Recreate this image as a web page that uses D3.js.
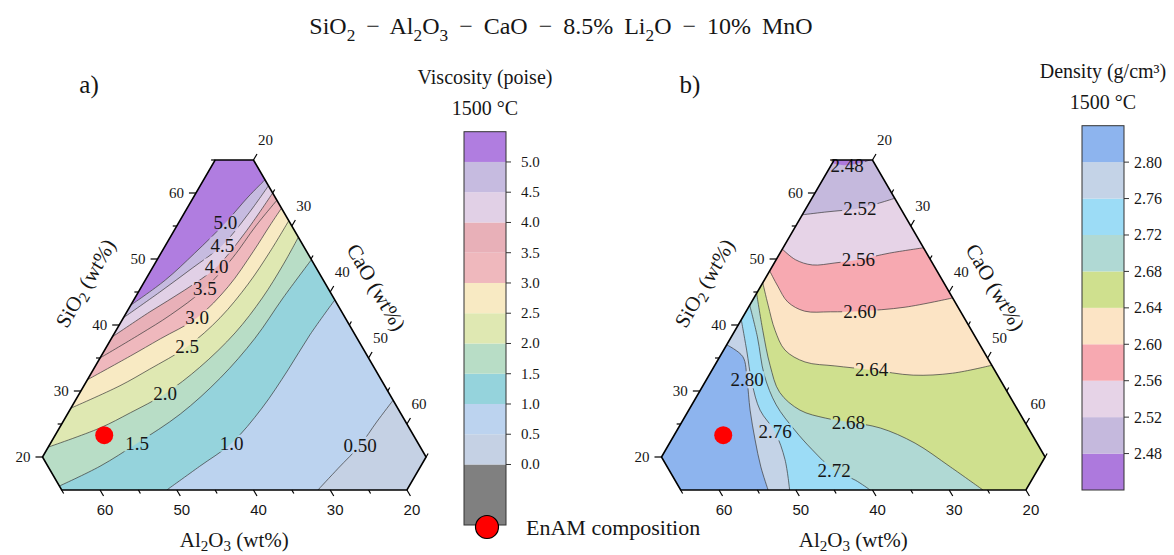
<!DOCTYPE html>
<html>
<head>
<meta charset="utf-8">
<script src="https://cdn.jsdelivr.net/npm/d3@7"></script>
<style>
  body { margin: 0; background: #fff; }
  text { font-family: "Liberation Serif", "Times New Roman", serif; fill: #161616; }
  .sans { font-family: "Liberation Sans", Arial, sans-serif; }
</style>
</head>
<body>
<svg id="fig" width="1174" height="555" font-family="Liberation Serif, serif"></svg>
<script>
// ---------- data (ternary points are [SiO2, Al2O3, CaO] in wt%) ----------
const viscLevels = [0.5, 1.0, 1.5, 2.0, 2.5, 3.0, 3.5, 4.0, 4.5, 5.0];
const viscLabels = ["0.50", "1.0", "1.5", "2.0", "2.5", "3.0", "3.5", "4.0", "4.5", "5.0"];
const viscEdges = [-1, 0, 0.5, 1.0, 1.5, 2.0, 2.5, 3.0, 3.5, 4.0, 4.5, 5.0, 5.5];
const viscColors = ["#808080", "#c5d1e4", "#bcd3ef", "#95d3dc", "#b8ddc6", "#dfe8b2",
                    "#f8eac3", "#efb8bd", "#e8b0b8", "#e1d0e6", "#c6bbe0", "#b07de0"];
const viscTicks = [0, 0.5, 1.0, 1.5, 2.0, 2.5, 3.0, 3.5, 4.0, 4.5, 5.0];
const viscLabelAt = [2, 2, 2, 3, 3, 3, 3, 3, 3, 3];
const viscContours = [
  [[15, 31.6, 53.4], [18.3, 27.3, 54.4], [21.8, 22.7, 55.5], [25.3, 18.8, 55.9], [28.6, 15, 56.4]],
  [[15, 51.3, 33.7], [18.6, 45.2, 36.2], [22.1, 39.3, 38.6], [27.4, 32.7, 39.9], [33.2, 26.4, 40.4], [38.5, 20.9, 40.6], [43.8, 15, 41.2]],
  [[15.6, 65, 19.4], [18.6, 58.2, 23.2], [22.1, 51.6, 26.3], [26.5, 43.8, 29.7], [32.0, 35.8, 32.2], [38.0, 28.3, 33.7], [44.1, 21.6, 34.3], [49.9, 15, 35.1]],
  [[21.5, 63.5, 15], [24.4, 55.3, 20.3], [26.7, 50.2, 23.1], [29.6, 44.2, 26.2], [33.6, 37.7, 28.7], [38.8, 30.5, 30.7], [44.1, 24.3, 31.6], [49.1, 19.1, 31.8], [53.3, 15, 31.7]],
  [[27.4, 57.6, 15], [30.8, 49.5, 19.7], [33.3, 44.4, 22.3], [36.7, 37.8, 25.5], [41.1, 31.3, 27.6], [46.2, 25.1, 28.7], [51.1, 19.8, 29.1], [55.8, 15, 29.2]],
  [[31.7, 53.3, 15], [35.3, 45.9, 18.8], [37.9, 40.7, 21.4], [41.1, 34.3, 24.6], [45.8, 27.9, 26.3], [51.1, 22.0, 26.9], [55.0, 17.9, 27.1], [57.7, 15, 27.3]],
  [[35, 50, 15], [38.6, 43.0, 18.4], [41.5, 37.6, 20.9], [45.5, 31.1, 23.4], [50.2, 25.1, 24.7], [55, 19.7, 25.3], [58.9, 15, 26.1]],
  [[38.2, 46.8, 15], [42.0, 40.0, 18.0], [45.3, 33.8, 20.9], [48.8, 27.9, 23.3], [53.9, 21.7, 24.4], [60, 15, 25]],
  [[41.1, 43.9, 15], [45, 37.2, 17.8], [48.6, 31.2, 20.2], [52.1, 25.5, 22.4], [56.8, 19.8, 23.4], [61.1, 15, 23.9]],
  [[43.0, 42.0, 15], [46.8, 35.6, 17.6], [50.9, 29.7, 19.4], [55.5, 23.4, 21.1], [59.4, 18.5, 22.1], [62.0, 15, 23.0]]
];

const densLevels = [2.48, 2.52, 2.56, 2.60, 2.64, 2.68, 2.72, 2.76, 2.80];
const densLabels = ["2.48", "2.52", "2.56", "2.60", "2.64", "2.68", "2.72", "2.76", "2.80"];
const densEdges = [2.44, 2.48, 2.52, 2.56, 2.60, 2.64, 2.68, 2.72, 2.76, 2.80, 2.84];
const densColors = ["#ad79dd", "#c5b9dd", "#e6d3e7", "#f7a9b1", "#fce4c5",
                    "#cfe08e", "#b0d9d4", "#9cdcf6", "#c4d3e7", "#8db4ee"];
const densTicks = [2.48, 2.52, 2.56, 2.60, 2.64, 2.68, 2.72, 2.76, 2.80];
const densLabelAt = [1, 2, 4, 5, 6, 6, 6, 4, 2];
const densContours = [
  [[64.5, 20.5, 15], [64.2, 18.7, 17.1], [65, 15.3, 19.7]],
  [[56.7, 28.3, 15], [57.1, 25.2, 17.7], [57.7, 20.3, 22.0], [58.5, 17.3, 24.2], [59.2, 15, 25.8]],
  [[51.5, 33.5, 15], [49.9, 32.6, 17.5], [49.1, 30.8, 20.1], [49.4, 27.7, 22.9], [49.9, 24.4, 25.7], [50.9, 19.8, 29.3], [51.7, 15, 33.3]],
  [[48.2, 36.8, 15], [45.9, 36.9, 17.2], [43.5, 36.8, 19.7], [42.1, 35.3, 22.6], [42.0, 32.0, 26.0], [42.1, 28.1, 29.8], [42.7, 21.9, 35.4], [44.1, 15, 40.9]],
  [[46.4, 38.6, 15], [43.0, 39.6, 17.4], [39.2, 40.6, 20.2], [36.2, 40.8, 23.0], [34.4, 39.1, 26.5], [33.8, 35.5, 30.7], [33.2, 31.0, 35.8], [32.4, 26.0, 41.6], [32.7, 20.7, 46.6], [33.9, 15, 51.1]],
  [[44.8, 40.2, 15], [39.2, 42.2, 18.6], [33.9, 43.9, 22.2], [29.8, 44.7, 25.5], [27.1, 43.4, 29.5], [25.9, 40.7, 33.4], [25.3, 38.0, 36.7], [24.4, 34.3, 41.3], [22.1, 30.9, 47.0], [18.5, 28.1, 53.4], [15, 25.6, 59.4]],
  [[43.0, 42.0, 15], [38.2, 43.4, 18.4], [32.4, 45.4, 22.2], [27.9, 46.1, 26.0], [24.1, 45.6, 30.3], [21.1, 44.8, 34.1], [18.0, 43.5, 38.5], [16.5, 41.5, 42.0], [15, 40.3, 44.7]],
  [[40.8, 44.2, 15], [36.2, 45.8, 18.0], [31.2, 47.6, 21.2], [27.1, 48.6, 24.3], [23.8, 48.3, 27.9], [19.6, 49.1, 31.3], [15, 50.8, 34.2]],
  [[37.0, 48.0, 15], [35.2, 46.8, 18.0], [31.7, 48.0, 20.3], [27.1, 49.9, 23.0], [22.6, 51.5, 25.9], [18.5, 52.8, 28.7], [15, 53.6, 31.4]]
];

const enam = [23.3, 55.3, 21.4];
const axisTicks = [20, 25, 30, 35, 40, 45, 50, 55, 60, 65];
// hexagon corners of the plotted region, going clockwise from top-left
const hexT = [[65, 20, 15], [65, 15, 20], [20, 15, 65], [15, 20, 65], [15, 65, 20], [20, 65, 15]];

// ---------- layout ----------
const W = 422, H = 363, baseY = 490;
const svg = d3.select("#fig");
const defs = svg.append("defs");
const frac = d3.scaleLinear().domain([15, 70]).range([0, 1]);

function projector(left) {
  const xs = d3.scaleLinear().domain([0, 1]).range([left, left + W]);
  const ys = d3.scaleLinear().domain([0, 1]).range([baseY, baseY - H]);
  return t => [xs(frac(t[2]) + frac(t[0]) / 2), ys(frac(t[0]))];
}

function edgeOf(t) {
  const d = [Math.abs(t[0] - 65), Math.abs(t[1] - 15), Math.abs(t[2] - 65),
             Math.abs(t[0] - 15), Math.abs(t[1] - 65), Math.abs(t[2] - 15)];
  return d.indexOf(d3.min(d));
}

function walk(from, to, step) {
  const out = [];
  let k = from;
  for (let n = 0; n < 6; n++) {
    out.push(k);
    if (k === to) break;
    k = (k + step + 6) % 6;
  }
  return out;
}

function rich(sel, parts, size, shift = 0.28) {
  let shifted = false;
  parts.forEach(part => {
    const sub = Array.isArray(part);
    const t = sel.append("tspan").text(sub ? part[0] : part);
    if (sub) {
      t.attr("font-size", size * 0.72);
      if (!shifted) { t.attr("dy", size * shift); shifted = true; }
    } else if (shifted) {
      t.attr("dy", -size * shift); shifted = false;
    }
  });
}

function drawPanel(p) {
  const proj = projector(p.left);
  const hexPx = hexT.map(proj);
  const pts = hexPx.map(d => d.join(",")).join(" ");
  const g = svg.append("g");

  defs.append("clipPath").attr("id", "clip-" + p.tag).append("polygon").attr("points", pts);
  const mask = defs.append("mask").attr("id", "mask-" + p.tag).attr("maskUnits", "userSpaceOnUse")
    .attr("x", 0).attr("y", 0).attr("width", 1174).attr("height", 555);
  mask.append("rect").attr("width", 1174).attr("height", 555).attr("fill", "#fff");

  const line = d3.line().curve(d3.curveCatmullRom.alpha(0.5));
  const fills = g.append("g").attr("clip-path", `url(#clip-${p.tag})`);
  const base = p.edges.indexOf(p.levels[0]) - 1;
  fills.append("polygon").attr("points", pts).attr("fill", p.colors[base]);

  p.lines.forEach((tri, i) => {
    const px = tri.map(proj);
    const es = edgeOf(tri[0]), ee = edgeOf(tri[tri.length - 1]);
    const fwd = walk((ee + 1) % 6, es, 1);
    const bwd = walk(ee, (es + 1) % 6, -1);
    const verts = (fwd.includes(p.ref) ? fwd : bwd).map(k => hexPx[k]);
    fills.append("path")
      .attr("d", line(px) + "L" + verts.map(v => v.join(",")).join("L") + "Z")
      .attr("fill", p.colors[p.edges.indexOf(p.levels[i])]);
  });

  const strokes = g.append("g").attr("clip-path", `url(#clip-${p.tag})`)
    .append("g").attr("mask", `url(#mask-${p.tag})`);
  p.lines.forEach(tri => {
    strokes.append("path").attr("d", line(tri.map(proj)))
      .attr("fill", "none").attr("stroke", "#3a3a3a").attr("stroke-width", 0.7);
  });

  const labs = g.append("g");
  p.lines.forEach((tri, i) => {
    const [x, y] = proj(tri[p.labelAt[i]]);
    const t = labs.append("text").attr("x", x).attr("y", y)
      .attr("text-anchor", "middle").attr("dominant-baseline", "central")
      .attr("font-size", 19).text(p.labels[i]);
    const b = t.node().getBBox();
    mask.append("rect").attr("x", b.x - 1).attr("y", b.y + 2)
      .attr("width", b.width + 2).attr("height", b.height - 4).attr("fill", "#000");
  });

  // EnAM point
  const [ex, ey] = proj(enam);
  g.append("circle").attr("cx", ex).attr("cy", ey).attr("r", 9).attr("fill", "#ff0000");

  // frame and axes
  const ax = g.append("g");
  ax.append("polygon").attr("points", pts).attr("fill", "none")
    .attr("stroke", "#000").attr("stroke-width", 1.6);

  const unit = (a, b) => { const dx = b[0] - a[0], dy = b[1] - a[1], l = Math.hypot(dx, dy); return [dx / l, dy / l]; };
  const downRight = unit(hexPx[1], hexPx[2]);   // parallel to right edge
  const upRight = unit(hexPx[5], hexPx[0]);     // parallel to left edge

  axisTicks.forEach(v => {
    const major = v % 10 === 0;
    const len = major ? 7 : 4;
    const [lx, ly] = proj([v, 85 - v, 15]);
    ax.append("line").attr("x1", lx).attr("y1", ly).attr("x2", lx - len).attr("y2", ly)
      .attr("stroke", "#000").attr("stroke-width", 1.2);
    const [bx, by] = proj([15, v, 85 - v]);
    ax.append("line").attr("x1", bx).attr("y1", by)
      .attr("x2", bx + downRight[0] * len).attr("y2", by + downRight[1] * len)
      .attr("stroke", "#000").attr("stroke-width", 1.2);
    const [rx, ry] = proj([85 - v, 15, v]);
    ax.append("line").attr("x1", rx).attr("y1", ry)
      .attr("x2", rx + upRight[0] * len).attr("y2", ry + upRight[1] * len)
      .attr("stroke", "#000").attr("stroke-width", 1.2);
    if (major && v <= 60) {
      ax.append("text").attr("x", lx - 12).attr("y", ly).attr("text-anchor", "end")
        .attr("dominant-baseline", "central").attr("font-size", 15).text(v);
      ax.append("text").attr("class", "sans").attr("x", bx + 5).attr("y", by + 19)
        .attr("text-anchor", "middle").attr("dominant-baseline", "central").attr("font-size", 15).text(v);
      ax.append("text").attr("x", rx + 12).attr("y", ry - 20)
        .attr("text-anchor", "middle").attr("dominant-baseline", "central").attr("font-size", 15).text(v);
    }
  });

  // axis titles
  const midL = [(hexPx[5][0] + hexPx[0][0]) / 2, (hexPx[5][1] + hexPx[0][1]) / 2];
  const midR = [(hexPx[1][0] + hexPx[2][0]) / 2, (hexPx[1][1] + hexPx[2][1]) / 2];
  const angL = Math.atan2(upRight[1], upRight[0]) * 180 / Math.PI;
  const angR = Math.atan2(downRight[1], downRight[0]) * 180 / Math.PI;
  const tl = [midL[0] + upRight[1] * 50, midL[1] - upRight[0] * 50];
  const tr = [midR[0] + downRight[1] * 42, midR[1] - downRight[0] * 42];
  const sTitle = ax.append("text").attr("text-anchor", "middle").attr("dominant-baseline", "central")
    .attr("font-size", 21).attr("transform", `translate(${tl[0]},${tl[1]}) rotate(${angL})`);
  rich(sTitle, ["SiO", ["2"], " (wt%)"], 21);
  ax.append("text").attr("text-anchor", "middle").attr("dominant-baseline", "central")
    .attr("font-size", 21).attr("transform", `translate(${tr[0]},${tr[1]}) rotate(${angR})`)
    .text("CaO (wt%)");
  const aTitle = ax.append("text").attr("text-anchor", "middle")
    .attr("x", (hexPx[3][0] + hexPx[4][0]) / 2).attr("y", baseY + 57).attr("font-size", 21);
  rich(aTitle, ["Al", ["2"], "O", ["3"], " (wt%)"], 21, 0.2);

  svg.append("text").attr("x", p.tagX).attr("y", 93).attr("text-anchor", "middle")
    .attr("font-size", 25).text(p.tag + ")");
}

function drawBar(c) {
  const y = d3.scaleLinear().domain([c.edges[0], c.edges[c.edges.length - 1]]).range([c.bottom, c.top]);
  const g = svg.append("g");
  c.colors.forEach((col, i) => {
    g.append("rect").attr("x", c.x).attr("width", c.w)
      .attr("y", y(c.edges[i + 1])).attr("height", y(c.edges[i]) - y(c.edges[i + 1])).attr("fill", col);
  });
  g.append("rect").attr("x", c.x).attr("y", c.top).attr("width", c.w).attr("height", c.bottom - c.top)
    .attr("fill", "none").attr("stroke", "#333").attr("stroke-width", 1);
  c.ticks.forEach(v => {
    g.append("line").attr("x1", c.x + c.w).attr("x2", c.x + c.w + 5).attr("y1", y(v)).attr("y2", y(v))
      .attr("stroke", "#333");
    g.append("text").attr("x", c.x + c.w + c.gap).attr("y", y(v)).attr("dominant-baseline", "central")
      .attr("font-size", c.fs).text(d3.format(c.fmt)(v));
  });
  g.append("text").attr("x", c.x + c.w / 2).attr("y", c.titleY).attr("text-anchor", "middle")
    .attr("font-size", 20).text(c.title);
  g.append("text").attr("x", c.x + c.w / 2).attr("y", c.titleY + 31).attr("text-anchor", "middle")
    .attr("font-size", 20).text("1500 °C");
}

drawPanel({tag: "a", tagX: 89, left: 23.3, levels: viscLevels, labels: viscLabels, edges: viscEdges,
  colors: viscColors, lines: viscContours, labelAt: viscLabelAt, ref: 0});
drawPanel({tag: "b", tagX: 690, left: 642.3, levels: densLevels, labels: densLabels, edges: densEdges,
  colors: densColors, lines: densContours, labelAt: densLabelAt, ref: 4});

drawBar({x: 464, w: 42, top: 131.7, bottom: 525, edges: viscEdges, colors: viscColors, ticks: viscTicks,
  fmt: ".1f", fs: 15, gap: 15, title: "Viscosity (poise)", titleY: 84});
drawBar({x: 1082, w: 42, top: 125.7, bottom: 490, edges: densEdges, colors: densColors, ticks: densTicks,
  fmt: ".2f", fs: 16, gap: 10, title: "Density (g/cm³)", titleY: 78});

// main title
const title = svg.append("text").attr("x", 561).attr("y", 34).attr("text-anchor", "middle")
  .attr("font-size", 24).attr("word-spacing", 5);
rich(title, ["SiO", ["2"], " − Al", ["2"], "O", ["3"], " − CaO − 8.5% Li", ["2"], "O − 10% MnO"], 24);

// legend
svg.append("circle").attr("cx", 487).attr("cy", 527).attr("r", 11.5)
  .attr("fill", "#ff0000").attr("stroke", "#000").attr("stroke-width", 1.2);
svg.append("text").attr("x", 526).attr("y", 527).attr("dominant-baseline", "central")
  .attr("font-size", 22).text("EnAM composition");
</script>
</body>
</html>
